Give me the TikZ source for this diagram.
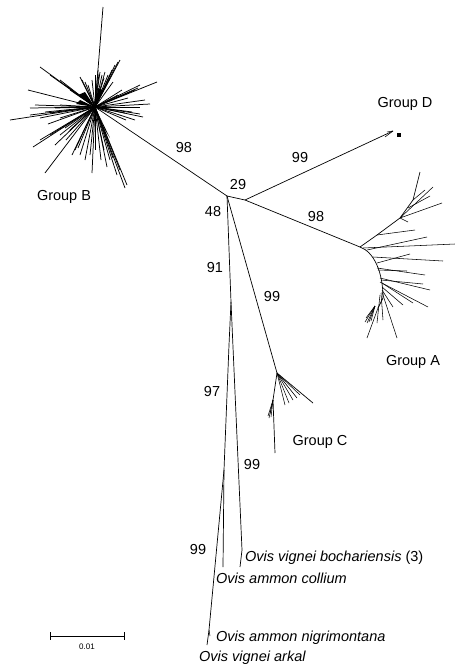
\documentclass[tikz,border=0pt]{standalone}
\usepackage{fontspec}
\setmainfont{Liberation Sans}
\begin{document}
\begin{tikzpicture}[x=1pt,y=-1pt,
  br/.style={line width=0.7pt},
  tw/.style={line width=0.55pt},
  twb/.style={line width=0.75pt},
  lab/.style={font=\fontsize{14.5}{17}\selectfont, inner sep=0pt},
  sp/.style={font=\fontsize{14.5}{17}\selectfont\itshape, inner sep=0pt, anchor=west}]
\useasboundingbox (0,0) rectangle (455,667);
% internal nodes
\coordinate (B) at (95,107);
\coordinate (C0) at (227,196);
\coordinate (Dn) at (245,200);
\coordinate (An) at (360,247);
\coordinate (Cn) at (277,373);
\coordinate (O1) at (231,302);
\coordinate (O3) at (229,345);
\coordinate (O4) at (224,470);
\coordinate (Dt) at (393,131);
% backbone
\draw[br] (B) -- (C0);
\draw[br] (C0) -- (Dn) -- (An);
\draw[br] (Dn) -- (Dt);
\draw[tw] (Dt) -- +(-8,6) (Dt) -- +(-6,1);
\fill (397,133) rectangle (401,137);
\draw[br] (C0) -- (Cn);
\draw[br] (C0) -- (O1);
% Ovis clade
\draw[br] (O1) -- (O3);
\draw[br] (O1) -- (242,550) -- (240,567);
\draw[br] (O3) -- (O4) -- (223,567);
\draw[br] (O4) -- (209,630) -- (207,645);
\draw[tw] (209,630) -- (210,636);
% Group B burst
\foreach \x/\y in {103/7,100/72,102/75,105/72,108/75,110/78,112/70,115/65,118/62,120/60,104/78,99/74,
  80/77,82/80,85/82,88/85,157/82,140/85,138/88,135/90,130/92,145/100,128/98,
  143/117,140/114,132/112,125/113,135/120,126/120,
  40/67,50/75,60/80,65/85,70/90,
  28/90,10/120,30/108,35/105,45/112,30/115,40/118,50/113,55/108,60/105,
  33/147,45/173,40/140,50/135,55/145,65/128,60/135,70/130,
  72/155,75/150,80/155,85/160,92/173,90/155,95/150,
  107/167,110/160,113/158,117/175,125/188,127/185,120/170,
  98/70,95/75,92/80,113/82,122/90,118/95,150/104,140/107,60/118,48/124,66/140,78/148,101/160,104/150}
  \draw[twb] (B) -- (\x,\y);
\fill (B) -- (78,95) -- (85,92) -- cycle;
\fill (B) -- (98,88) -- (103,90) -- cycle;
\fill (B) -- (72,128) -- (68,132) -- cycle;
\fill (B) -- (105,130) -- (110,138) -- cycle;
\fill (B) -- (80,100) -- (76,104) -- cycle;
% Group A
\draw[br] (An) .. controls (374,252) and (383,272) .. (383,298) -- (378,308);
\draw[br] (An) -- (377,235) -- (400,218) -- (413,200) -- (420,172);
\draw[tw] (377,235) -- (415,230);
\draw[tw] (400,218) -- (408,222) (400,218) -- (442,203) (400,218) -- (433,187);
\draw[tw] (413,200) -- (425,190) (408,208) -- (430,196);
\foreach \a/\b/\c/\d in {363/248/455/244, 367/250/427/237, 373/257/443/261, 377/263/410/254,
  377/268/425/275, 378/270/407/271, 380/278/430/290, 381/280/423/284, 380/282/428/307,
  382/283/413/303, 382/287/403/305, 382/290/393/307, 382/292/397/338, 381/293/383/320,
  380/295/377/323, 378/308/367/338}
  \draw[tw] (\a,\b) -- (\c,\d);
\foreach \x/\y in {365/322,367/323,369/322,371/321,366/318}
  \draw[tw] (375,306) -- (\x,\y);
% Group C
\draw[br] (Cn) -- (313,403);
\foreach \x/\y in {300/395,297/398,293/400,289/403,285/405}
  \draw[tw] (Cn) -- (\x,\y);
\draw[br] (Cn) -- (273,400) -- (275,453);
\foreach \x/\y in {269/418,271/417,270/414,268/416}
  \draw[tw] (273,400) -- (\x,\y);
% labels
\node[lab] (gB) at (64,197) {Group B};
\node[lab] (gD) at (405,104) {Group D};
\node[lab] (gA) at (413,362) {Group A};
\node[lab] (gC) at (320,442) {Group C};
\node[lab] (l98a) at (184,148) {98};
\node[lab] (l99d) at (300,158) {99};
\node[lab] (l29) at (238,185) {29};
\node[lab] (l48) at (213,212) {48};
\node[lab] (l98b) at (316,217) {98};
\node[lab] (l91) at (215,268) {91};
\node[lab] (l99c) at (272,297) {99};
\node[lab] (l97) at (212,392) {97};
\node[lab] (l99o) at (252,465) {99};
\node[lab] (l99k) at (198,550) {99};
\node[sp] (s1) at (245,558) {Ovis vignei bochariensis\upshape{} (3)};
\node[sp] (s2) at (216,578) {Ovis ammon collium};
\node[sp] (s3) at (216,638) {Ovis ammon nigrimontana};
\node[sp] (s4) at (199,658) {Ovis vignei arkal};
% scale bar
\coordinate (s0) at (50,636);
\coordinate (s9) at (124,636);
\draw[line width=0.8pt] (s0) -- (s9);
\draw[line width=0.8pt] (50,632) -- (50,640) (124,632) -- (124,640);
\node[inner sep=0pt, font=\fontsize{8}{9}\selectfont] (sl) at (87,647) {0.01};
\end{tikzpicture}
\end{document}
